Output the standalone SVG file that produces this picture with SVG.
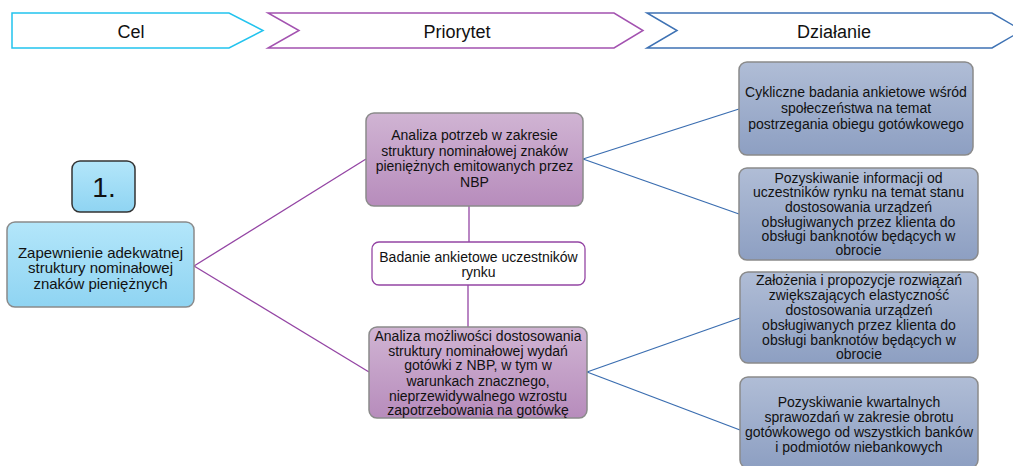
<svg xmlns="http://www.w3.org/2000/svg" width="1013" height="466" viewBox="0 0 1013 466">
<defs>
<linearGradient id="gBlue" x1="0" y1="0" x2="0" y2="1"><stop offset="0" stop-color="#b3e6fa"/><stop offset="1" stop-color="#8fd4f2"/></linearGradient>
<linearGradient id="gPurple" x1="0" y1="0" x2="0" y2="1"><stop offset="0" stop-color="#d0b4d3"/><stop offset="1" stop-color="#b78cbc"/></linearGradient>
<linearGradient id="gSteel" x1="0" y1="0" x2="0" y2="1"><stop offset="0" stop-color="#b0bdd6"/><stop offset="1" stop-color="#8d9fc2"/></linearGradient>
<style>
text{font-family:"Liberation Sans",Arial,sans-serif;fill:#111;text-anchor:middle}
.hd{font-size:18px}
.t{font-size:14px}
.tl{font-size:15px}
.box{stroke:#8a8a8a;stroke-width:1.5}
.pl{stroke:#9445a4;stroke-width:1.3;fill:none}
.bl{stroke:#3a6db0;stroke-width:1.3;fill:none}
</style>
</defs>
<g id="headers">
<g id="h-cel"><polygon points="12,13 229,13 263,30.5 229,48 12,48" fill="#fff" stroke="#22c3ee" stroke-width="1.5"/><text class="hd" x="131" y="37.5">Cel</text></g>
<g id="h-prio"><polygon points="268,13 614,13 643,30.5 614,48 268,48 299,30.5" fill="#fff" stroke="#a352b0" stroke-width="1.5"/><text class="hd" x="457" y="37.5">Priorytet</text></g>
<g id="h-dzial"><polygon points="647,13 992,13 1022,30.5 992,48 647,48 677,30.5" fill="#fff" stroke="#3e72b4" stroke-width="1.5"/><text class="hd" x="834" y="37.5">Działanie</text></g>
</g>
<g id="connectors">
<line class="pl" x1="194" y1="266" x2="366" y2="159"/>
<line class="pl" x1="194" y1="266" x2="369" y2="372"/>
<line class="pl" x1="469" y1="206" x2="469" y2="242"/>
<line class="pl" x1="468" y1="285" x2="468" y2="327"/>
<line class="bl" x1="583" y1="159" x2="739" y2="109"/>
<line class="bl" x1="583" y1="159" x2="739" y2="214"/>
<line class="bl" x1="587" y1="372" x2="740" y2="318"/>
<line class="bl" x1="587" y1="372" x2="740" y2="430"/>
</g>
<g id="n-num"><rect x="72" y="161" width="63" height="51" rx="8" fill="url(#gBlue)" stroke="#333" stroke-width="1.5"/><text x="104" y="197" font-size="28">1.</text></g>
<g id="n-cel"><rect class="box" x="7" y="222" width="187" height="85" rx="8" fill="url(#gBlue)"/>
<text class="tl"><tspan x="100.5" y="257.5">Zapewnienie adekwatnej</tspan><tspan x="100.5" y="273">struktury nominałowej</tspan><tspan x="100.5" y="288.5">znaków pieniężnych</tspan></text></g>
<g id="n-p1"><rect class="box" x="366" y="113" width="217" height="93" rx="8" fill="url(#gPurple)"/>
<text class="t"><tspan x="474.5" y="140">Analiza potrzeb w zakresie</tspan><tspan x="474.5" y="155.5">struktury nominałowej znaków</tspan><tspan x="474.5" y="171">pieniężnych emitowanych przez</tspan><tspan x="474.5" y="186.5">NBP</tspan></text></g>
<g id="n-bad"><rect x="372" y="242" width="213" height="43" rx="7" fill="#fff" stroke="#9445a4" stroke-width="1.3"/>
<text class="t"><tspan x="478.5" y="261.5">Badanie ankietowe uczestników</tspan><tspan x="478.5" y="277">rynku</tspan></text></g>
<g id="n-p2"><rect class="box" x="369" y="327" width="218" height="91" rx="8" fill="url(#gPurple)"/>
<text class="t"><tspan x="478" y="341">Analiza możliwości dostosowania</tspan><tspan x="478" y="355.5">struktury nominałowej wydań</tspan><tspan x="478" y="370">gotówki z NBP, w tym w</tspan><tspan x="478" y="386">warunkach znacznego,</tspan><tspan x="478" y="400.5">nieprzewidywalnego wzrostu</tspan><tspan x="478" y="415">zapotrzebowania na gotówkę</tspan></text></g>
<g id="n-a"><rect class="box" x="739" y="62" width="234" height="93" rx="8" fill="url(#gSteel)"/>
<text class="t"><tspan x="856" y="97">Cykliczne badania ankietowe wśród</tspan><tspan x="856" y="113">społeczeństwa na temat</tspan><tspan x="856" y="129">postrzegania obiegu gotówkowego</tspan></text></g>
<g id="n-b"><rect class="box" x="739" y="168" width="239" height="92" rx="8" fill="url(#gSteel)"/>
<text class="t"><tspan x="858.5" y="182.5">Pozyskiwanie informacji od</tspan><tspan x="858.5" y="197">uczestników rynku na temat stanu</tspan><tspan x="858.5" y="212">dostosowania urządzeń</tspan><tspan x="858.5" y="226.5">obsługiwanych przez klienta do</tspan><tspan x="858.5" y="240.5">obsługi banknotów będących w</tspan><tspan x="858.5" y="255">obrocie</tspan></text></g>
<g id="n-c"><rect class="box" x="740" y="272" width="238" height="91" rx="8" fill="url(#gSteel)"/>
<text class="t"><tspan x="859" y="285">Założenia i propozycje rozwiązań</tspan><tspan x="859" y="300">zwiększających elastyczność</tspan><tspan x="859" y="315">dostosowania urządzeń</tspan><tspan x="859" y="330">obsługiwanych przez klienta do</tspan><tspan x="859" y="345">obsługi banknotów będących w</tspan><tspan x="859" y="359">obrocie</tspan></text></g>
<g id="n-d"><rect class="box" x="740" y="377" width="238" height="91" rx="8" fill="url(#gSteel)"/>
<text class="t"><tspan x="859" y="407">Pozyskiwanie kwartalnych</tspan><tspan x="859" y="422">sprawozdań w zakresie obrotu</tspan><tspan x="859" y="437">gotówkowego od wszystkich banków</tspan><tspan x="859" y="451.5">i podmiotów niebankowych</tspan></text></g>
</svg>
